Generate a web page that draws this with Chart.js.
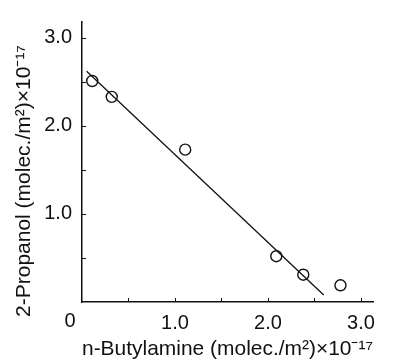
<!DOCTYPE html>
<html>
<head>
<meta charset="utf-8">
<script src="https://cdn.jsdelivr.net/npm/chart.js@4/dist/chart.umd.min.js"></script>
<style>
html,body{margin:0;padding:0;background:#fff;}
#wrap{width:398px;height:362px;}
</style>
</head>
<body>
<div id="wrap"><canvas id="c" width="398" height="362"></canvas></div>
<script>
// Data
const butylamine = [0.11, 0.32, 1.11, 2.09, 2.38, 2.78];
const propanol   = [2.51, 2.33, 1.73, 0.52, 0.31, 0.19];
const fitX = [0.05, 2.60];
const fitY = [2.62, 0.08];
const xTickLabels = ['1.0', '2.0', '3.0'];
const yTickLabels = ['1.0', '2.0', '3.0'];
const cornerLabel = '0';
const xTitle = 'n-Butylamine (molec./m\u00B2)\u00D710\u207B\u00B9\u2077';
const yTitle = '2-Propanol (molec./m\u00B2)\u00D710\u207B\u00B9\u2077';

const FONT = '"Liberation Sans", Arial, sans-serif';

const pointData = butylamine.map((x, i) => ({x: x, y: propanol[i]}));
const lineData = fitX.map((x, i) => ({x: x, y: fitY[i]}));

const extras = {
  id: 'extras',
  afterDraw(chart) {
    const ctx = chart.ctx;
    const xs = chart.scales.x, ys = chart.scales.y;
    ctx.save();
    ctx.strokeStyle = '#111';
    ctx.lineWidth = 1;
    // inward ticks
    for (let v = 0.5; v <= 3.0001; v += 0.5) {
      const px = Math.round(xs.getPixelForValue(v)) + 0.5;
      ctx.beginPath(); ctx.moveTo(px, ys.bottom); ctx.lineTo(px, ys.bottom - 4); ctx.stroke();
      const py = Math.round(ys.getPixelForValue(v)) + 0.5;
      ctx.beginPath(); ctx.moveTo(xs.left, py); ctx.lineTo(xs.left + 4, py); ctx.stroke();
    }
    ctx.fillStyle = '#111';
    ctx.font = '20px ' + FONT;
    ctx.textAlign = 'center';
    ctx.textBaseline = 'middle';
    ctx.fillText(cornerLabel, xs.getPixelForValue(0) - 12, 321);
    ctx.font = '21px ' + FONT;
    ctx.translate(24, 181);
    ctx.rotate(-Math.PI / 2);
    ctx.fillText(yTitle, 0, 0);
    ctx.restore();
  }
};

function tickFilter(scale) {
  const t = [];
  for (let v = 0.5; v <= 3.0001; v += 0.5) t.push({value: Math.round(v * 10) / 10});
  scale.ticks = t;
}

new Chart(document.getElementById('c'), {
  type: 'scatter',
  data: {
    datasets: [
      {
        label: 'fit',
        type: 'line',
        data: lineData,
        borderColor: '#111',
        borderWidth: 1.3,
        pointRadius: 0,
        fill: false,
        tension: 0
      },
      {
        label: 'data',
        data: pointData,
        pointRadius: 5.5,
        pointBorderWidth: 1.4,
        pointBorderColor: '#111',
        pointBackgroundColor: '#fff',
        showLine: false
      }
    ]
  },
  options: {
    responsive: false,
    animation: false,
    events: [],
    layout: {padding: {top: 13, right: 25, left: 0, bottom: 0}},
    plugins: {legend: {display: false}, tooltip: {enabled: false}},
    scales: {
      x: {
        type: 'linear',
        min: 0, max: 3.13,
        afterBuildTicks: tickFilter,
        afterFit(s) { s.height = 60; },
        border: {display: true, color: '#111', width: 1.5},
        grid: {display: false, drawTicks: false},
        ticks: {
          color: '#111',
          font: {family: FONT, size: 20},
          padding: 9,
          maxRotation: 0,
          autoSkip: false,
          callback: (v) => (Math.abs(v % 1) < 1e-9 && v > 0) ? xTickLabels[Math.round(v) - 1] : ''
        },
        title: {
          display: true,
          text: xTitle,
          color: '#111',
          font: {family: FONT, size: 21},
          padding: {top: 0, bottom: 0}
        }
      },
      y: {
        type: 'linear',
        min: 0, max: 3.18,
        afterBuildTicks: tickFilter,
        afterFit(s) { s.width = 82; },
        border: {display: true, color: '#111', width: 1.5},
        grid: {display: false, drawTicks: false},
        ticks: {
          color: '#111',
          font: {family: FONT, size: 20},
          padding: 10,
          autoSkip: false,
          callback: (v) => (Math.abs(v % 1) < 1e-9 && v > 0) ? yTickLabels[Math.round(v) - 1] : ''
        }
      }
    }
  },
  plugins: [extras]
});
</script>
</body>
</html>
